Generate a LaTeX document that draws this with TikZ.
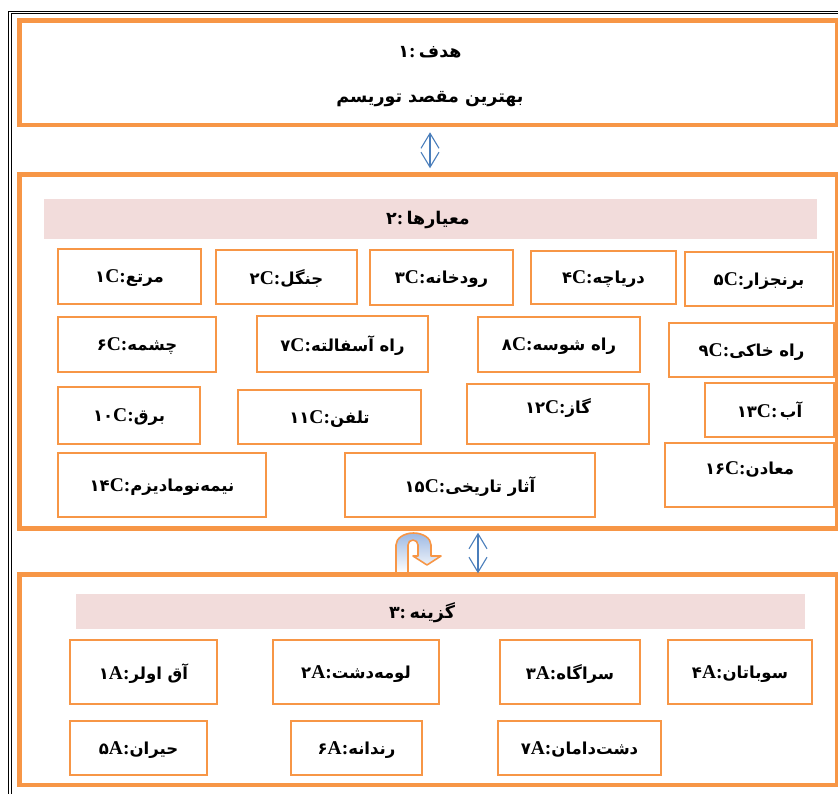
\documentclass[tikz,border=0pt]{standalone}
\usepackage{fontspec}
\setmainfont{Liberation Serif}
\newfontfamily\fa[Script=Arabic]{DejaVu Sans}
\TeXXeTstate=1
\usetikzlibrary{arrows.meta}
\definecolor{orng}{HTML}{F79646}
\definecolor{pinkband}{HTML}{F2DCDB}
\definecolor{arblue}{HTML}{4A7EBB}
\definecolor{ublue}{HTML}{9DB9E3}
\newcommand\fatxt[1]{{\fa\bfseries\fontsize{16.5}{19}\selectfont #1}}
\newcommand\fadig[1]{{\fa\bfseries\fontsize{16.5}{19}\selectfont #1}}
\newcommand\lt[1]{{\bfseries\fontsize{19.5}{22}\selectfont #1}}
\newcommand\tfa[1]{{\fa\bfseries\fontsize{17.5}{20}\selectfont #1}}
\newcommand\cl[3]{\fadig{#1}\lt{#2:}\fatxt{#3}}
\begin{document}
\begin{tikzpicture}[x=1pt,y=-1pt,
  bigbox/.style={draw=orng, line width=4.5pt, inner sep=0pt},
  cbox/.style={draw=orng, line width=2.5pt, inner sep=0pt, fill=white, text depth=0pt},
  band/.style={fill=pinkband, inner sep=0pt},
  ttl/.style={inner sep=0pt, text depth=0pt},
  frame/.style={draw=black, line width=0.9pt},
  dbl/.style={draw=arblue, line width=1.1pt, {Straight Barb[length=15pt,width=18pt]}-{Straight Barb[length=15pt,width=18pt]}}
]
\useasboundingbox (0,0) rectangle (838,793);
% outer frame (double line)
\draw[frame] (8,11.5) rectangle (850,805);
\draw[frame] (11,13.8) rectangle (847,802);
% big boxes
\node[bigbox, minimum width=817.5pt, minimum height=104.5pt] (g) at (428.25,72.75) {};
\node[bigbox, minimum width=817.5pt, minimum height=354pt] (crit) at (428.25,351.5) {};
\node[bigbox, minimum width=817.5pt, minimum height=210.5pt] (alt) at (428.25,679.75) {};
% goal texts
\node[ttl] (t1a) at (430,52) {\tfa{۱}\lt{:} \tfa{\beginR هدف\endR}};
\node[ttl] (t1b) at (430,97) {\tfa{\beginR بهترین مقصد توریسم\endR}};
% bands
\node[band, minimum width=773pt, minimum height=40pt] (b2) at (430.5,219) {};
\node[ttl] (t2) at (428,218) {\tfa{۲}\lt{:} \tfa{\beginR معیارها\endR}};
\node[band, minimum width=729pt, minimum height=35pt] (b3) at (440.5,611.5) {};
\node[ttl] (t3) at (422,610.5) {\tfa{۳}\lt{:} \tfa{\beginR گزینه\endR}};
% criteria
\node[cbox, minimum width=143pt, minimum height=55pt] (c1) at (129.5,276.5) {\cl{۱}{C}{\beginR مرتع\endR}};
\node[cbox, minimum width=141pt, minimum height=54pt] (c2) at (286.5,277) {\cl{۲}{C}{\beginR جنگل\endR}};
\node[cbox, minimum width=143pt, minimum height=55pt] (c3) at (441.5,277.5) {\cl{۳}{C}{\beginR رودخانه\endR}};
\node[cbox, minimum width=145pt, minimum height=53pt] (c4) at (603.5,277.5) {\cl{۴}{C}{\beginR دریاچه\endR}};
\node[cbox, minimum width=148pt, minimum height=54pt] (c5) at (759,279) {\cl{۵}{C}{\beginR برنجزار\endR}};
\node[cbox, minimum width=158pt, minimum height=55pt] (c6) at (137,344.5) {\cl{۶}{C}{\beginR چشمه\endR}};
\node[cbox, minimum width=171pt, minimum height=56pt] (c7) at (342.5,344) {\cl{۷}{C}{\beginR راه آسفالته\endR}};
\node[cbox, minimum width=162pt, minimum height=55pt] (c8) at (559,344.5) {\cl{۸}{C}{\beginR راه شوسه\endR}};
\node[cbox, minimum width=165pt, minimum height=54pt] (c9) at (751.5,350) {\cl{۹}{C}{\beginR راه خاکی\endR}};
\node[cbox, minimum width=142pt, minimum height=57pt] (c10) at (129,415.5) {\cl{۱۰}{C}{\beginR برق\endR}};
\node[cbox, minimum width=183pt, minimum height=54pt] (c11) at (329.5,417) {\cl{۱۱}{C}{\beginR تلفن\endR}};
\node[cbox, minimum width=182pt, minimum height=60pt] (c12) at (558,414) {};
\node[ttl] (c12t) at (558,406) {\cl{۱۲}{C}{\beginR گاز\endR}};
\node[cbox, minimum width=129pt, minimum height=54pt] (c13) at (769.5,410) {\fadig{۱۳}\lt{C:}\ \fatxt{\beginR آب\endR}};
\node[cbox, minimum width=208pt, minimum height=64pt] (c14) at (162,485) {\cl{۱۴}{C}{\beginR نیمه‌نومادیزم\endR}};
\node[cbox, minimum width=250pt, minimum height=64pt] (c15) at (470,485) {\cl{۱۵}{C}{\beginR آثار تاریخی\endR}};
\node[cbox, minimum width=169pt, minimum height=64pt] (c16) at (749.5,475) {};
\node[ttl] (c16t) at (749.5,468) {\cl{۱۶}{C}{\beginR معادن\endR}};
% alternatives
\node[cbox, minimum width=147pt, minimum height=64pt] (a1) at (143.5,672) {\cl{۱}{A}{\beginR آق اولر\endR}};
\node[cbox, minimum width=166pt, minimum height=64pt] (a2) at (356,672) {\cl{۲}{A}{\beginR لومه‌دشت\endR}};
\node[cbox, minimum width=140pt, minimum height=64pt] (a3) at (570,672) {\cl{۳}{A}{\beginR سراگاه\endR}};
\node[cbox, minimum width=144pt, minimum height=64pt] (a4) at (740,672) {\cl{۴}{A}{\beginR سوباتان\endR}};
\node[cbox, minimum width=137pt, minimum height=54pt] (a5) at (138.5,748) {\cl{۵}{A}{\beginR حیران\endR}};
\node[cbox, minimum width=131pt, minimum height=54pt] (a6) at (356.5,748) {\cl{۶}{A}{\beginR رندانه\endR}};
\node[cbox, minimum width=163pt, minimum height=54pt] (a7) at (579.5,748) {\cl{۷}{A}{\beginR دشت‌دامان\endR}};
% connectors
\coordinate (ax1) at (430,0);
\coordinate (ax2) at (478,0);
\draw[dbl, shorten <=5pt, shorten >=4pt] (g.south -| ax1) -- (crit.north -| ax1);
\draw[dbl, shorten <=2pt, shorten >=-1pt] (crit.south -| ax2) -- (alt.north -| ax2);
% U-turn block arrow
\path[draw=orng, line width=1.6pt, top color=ublue, bottom color=white, line join=round]
  (396,573) -- (396,545) arc[start angle=180, end angle=360, x radius=17.5, y radius=12]
  -- (431,556) -- (441,556) -- (427,565) -- (413,556) -- (418,556) -- (418,545)
  arc[start angle=360, end angle=180, x radius=5, y radius=5] -- (408,573) -- cycle;
\end{tikzpicture}
\end{document}
